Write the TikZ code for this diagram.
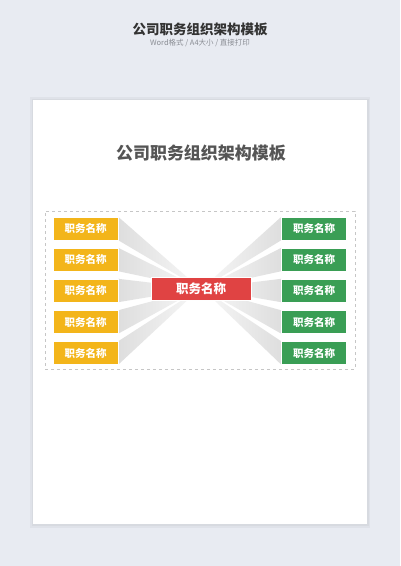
\documentclass[tikz,border=0pt]{standalone}
\usepackage{fontspec}
\setmainfont{Noto Sans CJK SC}
\usetikzlibrary{calc,shadows}
\definecolor{bgc}{HTML}{E8EBF2}
\definecolor{ylw}{HTML}{F3B51A}
\definecolor{grn}{HTML}{3A9E55}
\definecolor{rd}{HTML}{E04343}
\definecolor{ttl}{HTML}{333333}
\definecolor{sub}{HTML}{8A8D94}
\definecolor{ttl2}{HTML}{555555}
\tikzset{
  box/.style={draw=white, line width=1pt, minimum width=65pt, minimum height=23pt,
    inner sep=0pt, text=white, font=\bfseries\fontsize{10.5}{12}\selectfont,
    drop shadow={shadow xshift=0.6pt, shadow yshift=-0.8pt, opacity=0.25}},
  lbox/.style={box, fill=ylw},
  rbox/.style={box, fill=grn},
  cbox/.style={box, fill=rd, minimum width=100pt, font=\bfseries\fontsize{12.5}{14}\selectfont},
  lwedge/.style={left color=gray!26, right color=gray!6},
  rwedge/.style={right color=gray!26, left color=gray!6},
}
\begin{document}
\begin{tikzpicture}[x=1pt,y=-1pt]
\fill[bgc] (0,0) rectangle (400,566);
\useasboundingbox (0,0) rectangle (400,566);
% page shadow
\fill[black, opacity=0.035] (30,97) rectangle (370,528);
\fill[black, opacity=0.035] (31.5,98.5) rectangle (368.5,526);
\fill[white] (33,100) rectangle (367,524);
\node[font=\bfseries\fontsize{13.5}{15}\selectfont, text=ttl] (t1) at (200,29) {公司职务组织架构模板};
\node[font=\fontsize{7.5}{8}\selectfont, text=sub] (t2) at (200,43.5) {Word格式 / A4大小 / 直接打印};
\node[font=\bfseries\fontsize{17}{19}\selectfont, text=ttl2] (t3) at (201,153) {公司职务组织架构模板};
\node[draw=gray!45, dashed, line width=0.6pt, minimum width=310pt, minimum height=158pt, inner sep=0pt] (frame) at (200,290) {};
% positions
\coordinate (C0) at (201,288.5);
\coordinate (apexL) at ($(C0)+(-1,0)$);
\coordinate (apexR) at ($(C0)+(1,0)$);
\foreach \i/\y in {1/228.5,2/259.5,3/290.5,4/322,5/353}{
  \path (85.5,\y) node[minimum width=65pt, minimum height=23pt, inner sep=0pt] (L\i) {};
  \path (314,\y) node[minimum width=65pt, minimum height=23pt, inner sep=0pt] (R\i) {};
}
\foreach \i in {1,...,5}{
  \shade[lwedge] (L\i.north east) -- (apexL) -- (L\i.south east) -- cycle;
  \shade[rwedge] (R\i.north west) -- (apexR) -- (R\i.south west) -- cycle;
}
\foreach \i in {1,...,5}{
  \node[lbox] at (L\i) {职务名称};
  \node[rbox] at (R\i) {职务名称};
}
\node[cbox] (C) at (C0) {职务名称};
\end{tikzpicture}
\end{document}
